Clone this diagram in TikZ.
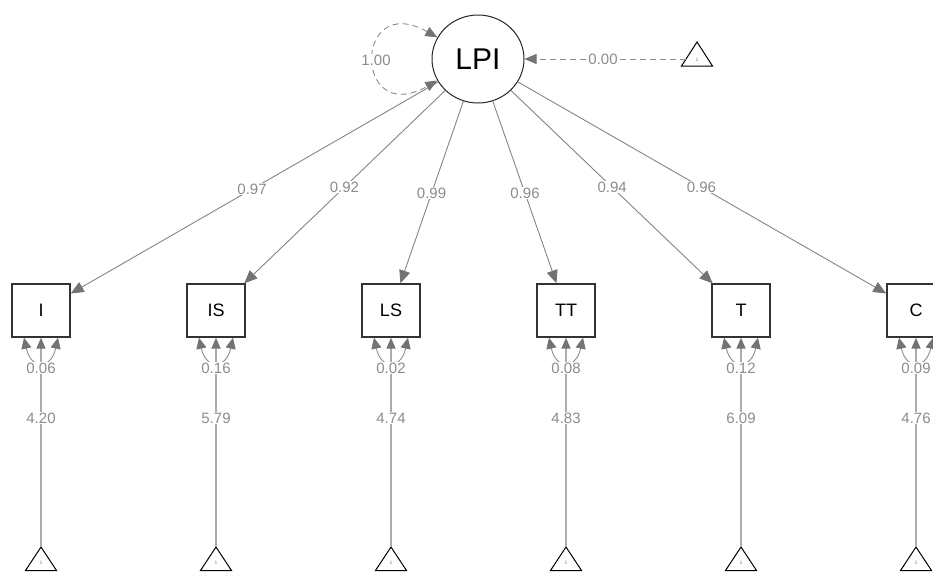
\documentclass[tikz,border=0pt]{standalone}
\usepackage{fontspec}
\setmainfont{Liberation Sans}
\usetikzlibrary{arrows.meta,calc,shapes.geometric}
\begin{document}
\begin{tikzpicture}[x=1pt,y=-1pt,
  lat/.style={ellipse, draw=black!85, line width=1pt, minimum width=92pt, minimum height=88pt, inner sep=0pt, font=\fontsize{30}{30}\selectfont},
  man/.style={rectangle, draw=black!80, line width=1.4pt, minimum width=58pt, minimum height=53pt, inner sep=0pt, font=\fontsize{18}{18}\selectfont},
  load/.style={draw=black!48, line width=0.9pt, -{Triangle[length=13pt,width=11pt,color=black!55]}},
  meanline/.style={draw=black!33, line width=1.8pt, -{Triangle[length=11pt,width=9pt,color=black!55]}},
  resid/.style={draw=black!45, line width=0.9pt, {Triangle[length=11pt,width=10pt,color=black!55]}-{Triangle[length=11pt,width=10pt,color=black!55]}},
  fixline/.style={draw=black!45, line width=0.9pt, dash pattern=on 6pt off 4pt},
  lab/.style={fill=white, inner sep=0.6pt, text=black!45, font=\fontsize{15}{15}\selectfont},
  tri/.style={draw=black, line width=1pt},
  one/.style={inner sep=0pt, text=black!50, font=\fontsize{5}{5}\selectfont}
]
\clip (0,0) rectangle (933,571);
\fill[white] (0,0) rectangle (933,571);

% latent
\node[lat] (LPI) at (478,59) {LPI};

% manifest
\node[man] (I)  at (41,310.5)  {I};
\node[man] (IS) at (216,310.5) {IS};
\node[man] (LS) at (391,310.5) {LS};
\node[man] (TT) at (566,310.5) {TT};
\node[man] (T)  at (741,310.5) {T};
\node[man] (C)  at (916,310.5) {C};

% loadings
\draw[load] (LPI) -- (I);
\draw[load] (LPI) -- (IS);
\draw[load] (LPI) -- (LS);
\draw[load] (LPI) -- (TT);
\draw[load] (LPI) -- (T);
\draw[load] (LPI) -- (C);
\node[lab] (lI)  at ($(LPI.center)!0.517!(I.center)$)  {0.97};
\node[lab] (lIS) at ($(LPI.center)!0.510!(IS.center)$) {0.92};
\node[lab] (lLS) at ($(LPI.center)!0.534!(LS.center)$) {0.99};
\node[lab] (lTT) at ($(LPI.center)!0.534!(TT.center)$) {0.96};
\node[lab] (lT)  at ($(LPI.center)!0.510!(T.center)$)  {0.94};
\node[lab] (lC)  at ($(LPI.center)!0.510!(C.center)$)  {0.96};

% latent variance loop
\draw[fixline, {Triangle[length=12pt,width=10pt,color=black!55]}-{Triangle[length=12pt,width=10pt,color=black!55]}]
  (LPI.152) .. controls (353,-10) and (353,128) .. (LPI.208);
\node[lab] (lv) at (376,60) {1.00};

% intercept triangle for latent
\draw[tri] (681.5,66) -- (697,42) -- (712.5,66) -- cycle;
\node[one] (o0) at (697,60) {1};
\coordinate (t0) at (686,59);
\draw[fixline, -{Triangle[length=12pt,width=10pt,color=black!55]}] (t0) -- (LPI);
\node[lab] (lm) at (603,59) {0.00};

% means and residuals
\foreach \n/\x/\m/\r in {I/41/4.20/0.06, IS/216/5.79/0.16, LS/391/4.74/0.02, TT/566/4.83/0.08, T/741/6.09/0.12, C/916/4.76/0.09}{
  \draw[tri] (\x-15.5,570.5) -- (\x,547) -- (\x+15.5,570.5) -- cycle;
  \node[one] (o\n) at (\x,563) {1};
  \coordinate (t\n) at (\x,547);
  \draw[meanline] (t\n) -- (\n);
  \node[lab] (m\n) at (\x,418) {\m};
  \draw[resid] ($(\n.south)+(-17,0)$) .. controls +(7,32) and +(-7,32) .. ($(\n.south)+(17,0)$);
  \node[lab] (r\n) at (\x,368) {\r};
}
\end{tikzpicture}
\end{document}
